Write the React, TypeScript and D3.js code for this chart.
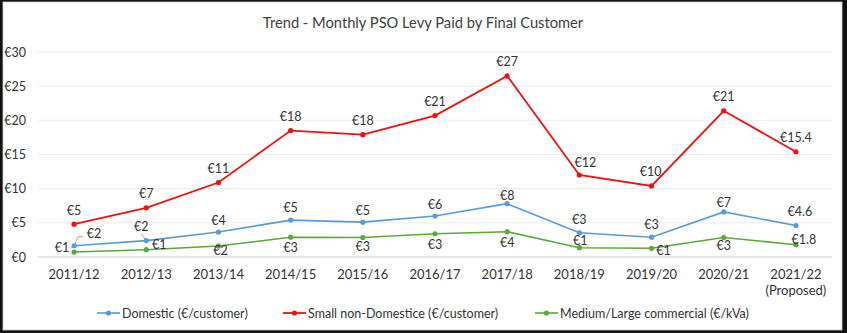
import React from "react";
import * as d3 from "d3";

const categories = ["2011/12","2012/13","2013/14","2014/15","2015/16","2016/17","2017/18","2018/19","2019/20","2020/21","2021/22"];
const domestic = [1.65, 2.4, 3.65, 5.4, 5.1, 6.0, 7.8, 3.55, 2.9, 6.6, 4.6];
const smallNonDomestic = [4.8, 7.2, 10.9, 18.5, 17.9, 20.7, 26.5, 12.0, 10.4, 21.4, 15.4];
const mediumLarge = [0.73, 1.07, 1.6, 2.9, 2.85, 3.4, 3.7, 1.36, 1.27, 2.85, 1.8];
const domesticLabels = ["€2","€2","€4","€5","€5","€6","€8","€3","€3","€7","€4.6"];
const smallLabels = ["€5","€7","€11","€18","€18","€21","€27","€12","€10","€21","€15.4"];
const mediumLabels = ["€1","€1","€2","€3","€3","€3","€4","€1","€1","€3","€1.8"];
const yTicks = [0, 5, 10, 15, 20, 25, 30];
const seriesNames = ["Domestic (€/customer)", "Small non-Domestice (€/customer)", "Medium/Large commercial (€/kVa)"];
const title = "Trend - Monthly PSO Levy Paid by Final Customer";

// label offsets (styling, in px relative to the point)
const domOff: [number, number][] = [[20,-12],[-5,-14],[0,-12],[0,-12.5],[0,-11.5],[0,-11.5],[0,-8.5],[0,-13],[0,-13],[0,-9.5],[4,-14]];
const smallOff: [number, number][] = [[0,-13.5],[0,-14],[0,-14],[0,-14],[0,-14],[0,-14],[0,-14],[6,-13],[-1,-14],[0,-14],[0,-14]];
const medOff: [number, number][] = [[-12,-5],[13,-5],[2,4.5],[0,10],[0,8.5],[0,10.5],[0,11],[1,-7],[12,2],[0,8],[8,-5.5]];

const W = 847, H = 333;
const FONT = "Lato, 'Open Sans', sans-serif";

export default function App() {
  const x = d3.scaleBand().domain(categories).range([38, 832]);
  const y = d3.scaleLinear().domain([0, 30]).range([257, 52]);
  const cx = (c: string) => (x(c) as number) + x.bandwidth() / 2;
  const line = d3.line<number>().x((_, i) => cx(categories[i])).y((v) => y(v));

  const series = [
    { name: seriesNames[0], values: domestic, labels: domesticLabels, off: domOff, color: "#5B9BD5", width: 1.6 },
    { name: seriesNames[1], values: smallNonDomestic, labels: smallLabels, off: smallOff, color: "#EE1111", width: 1.8 },
    { name: seriesNames[2], values: mediumLarge, labels: mediumLabels, off: medOff, color: "#5DA83A", width: 1.6 },
  ];
  const legendX = [97, 283, 535];

  return (
    <svg width={W} height={H} style={{ position: "absolute", left: 0, top: 0 }} fontFamily={FONT}>
      <rect x={0} y={0} width={W} height={H} fill="#111" />
      <rect x={3} y={2} width={839} height={328} fill="#fff" stroke="#d0d0d0" strokeWidth={0.8} />
      <text x={423} y={22} textAnchor="middle" dominantBaseline="central" fontSize={14.7} fill="#404040">{title}</text>
      {yTicks.map((t) => (
        <g key={t}>
          <line x1={38} x2={832} y1={y(t)} y2={y(t)} stroke={t === 0 ? "#d0d0d0" : "#ececec"} strokeWidth={1} />
          <text x={26} y={y(t)} textAnchor="end" dominantBaseline="central" fontSize={12.5} fill="#333">{"€" + t}</text>
        </g>
      ))}
      {categories.map((c, i) => (
        <g key={c}>
          <text x={cx(c)} y={274} textAnchor="middle" dominantBaseline="central" fontSize={13} fill="#333">{c}</text>
          {i === categories.length - 1 && (
            <text x={cx(c)} y={290} textAnchor="middle" dominantBaseline="central" fontSize={13} fill="#333">(Proposed)</text>
          )}
        </g>
      ))}
      {/* leader lines */}
      <polyline points={`${cx(categories[0])},${y(domestic[0])} ${cx(categories[0]) + 4},${y(domestic[0]) - 9} ${cx(categories[0]) + 9},${y(domestic[0]) - 9}`} fill="none" stroke="#a6a6a6" strokeWidth={1} />
      <line x1={cx(categories[1]) - 5} y1={y(domestic[1]) - 7} x2={cx(categories[1])} y2={y(domestic[1])} stroke="#a6a6a6" strokeWidth={1} />
      {series.map((s) => (
        <g key={s.name}>
          <path d={line(s.values) || ""} fill="none" stroke={s.color} strokeWidth={s.width} />
          {s.values.map((v, i) => (
            <circle key={i} cx={cx(categories[i])} cy={y(v)} r={2.6} fill={s.color} />
          ))}
        </g>
      ))}
      {series.map((s) => (
        <g key={s.name + "l"}>
          {s.values.map((v, i) => (
            <text key={i} x={cx(categories[i]) + s.off[i][0]} y={y(v) + s.off[i][1]} textAnchor="middle" dominantBaseline="central" fontSize={12.5} fill="#333">{s.labels[i]}</text>
          ))}
        </g>
      ))}
      {series.map((s, k) => (
        <g key={s.name + "g"}>
          <line x1={legendX[k]} x2={legendX[k] + 23} y1={313} y2={313} stroke={s.color} strokeWidth={s.width} />
          <circle cx={legendX[k] + 11.5} cy={313} r={2.6} fill={s.color} />
          <text x={legendX[k] + 25} y={313} dominantBaseline="central" fontSize={12.5} fill="#333">{s.name}</text>
        </g>
      ))}
    </svg>
  );
}
